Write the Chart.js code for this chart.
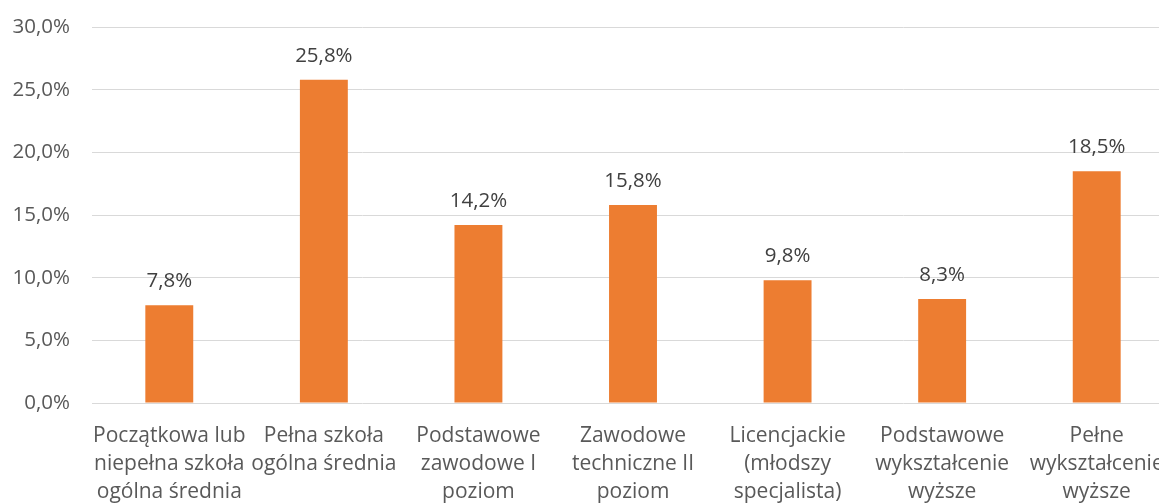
<!DOCTYPE html>
<html>
<head>
<meta charset="utf-8">
<script src="https://cdn.jsdelivr.net/npm/chart.js@4.4.0/dist/chart.umd.min.js"></script>
<style>
  html, body { margin: 0; padding: 0; background: #fff; overflow: hidden; }
  #wrap { width: 1159px; height: 504px; overflow: hidden; }
</style>
</head>
<body>
<div id="wrap"><canvas id="chart1" width="1174" height="504"></canvas></div>
<script>
const categories = [
  ['Początkowa lub', 'niepełna szkoła', 'ogólna średnia'],
  ['Pełna szkoła', 'ogólna średnia'],
  ['Podstawowe', 'zawodowe I', 'poziom'],
  ['Zawodowe', 'techniczne II', 'poziom'],
  ['Licencjackie', '(młodszy', 'specjalista)'],
  ['Podstawowe', 'wykształcenie', 'wyższe'],
  ['Pełne', 'wykształcenie', 'wyższe']
];
const shares = [7.8, 25.8, 14.2, 15.8, 9.8, 8.3, 18.5];
const yTicks = [0, 5, 10, 15, 20, 25, 30];

const fontFamily = '"Open Sans", "Noto Sans", sans-serif';

function fmt(v) {
  return v.toFixed(1).replace('.', ',') + '%';
}

// labels above bars
const barLabels = {
  id: 'barLabels',
  afterDatasetsDraw(chart) {
    const ctx = chart.ctx;
    const meta = chart.getDatasetMeta(0);
    ctx.save();
    ctx.font = '20.5px ' + fontFamily;
    ctx.fillStyle = '#404040';
    ctx.textAlign = 'center';
    ctx.textBaseline = 'alphabetic';
    meta.data.forEach((bar, i) => {
      ctx.fillText(fmt(shares[i]), bar.x, bar.y - 18);
    });
    ctx.restore();
  }
};

// drop the label-based padding chart.js adds, so the plot area is fixed
function noPad(scale) {
  scale.paddingTop = 0;
  scale.paddingBottom = 0;
  scale.paddingLeft = 0;
  scale.paddingRight = 0;
}

var ctx1 = document.getElementById('chart1').getContext('2d');
var chart1 = new Chart(ctx1, {
  type: 'bar',
  data: {
    labels: categories,
    datasets: [{
      data: shares,
      backgroundColor: '#ED7D31',
      borderWidth: 0,
      barPercentage: 0.31,
      categoryPercentage: 1.0
    }]
  },
  options: {
    responsive: false,
    animation: false,
    layout: { autoPadding: false, padding: { top: 27, left: 0, right: 0, bottom: 0 } },
    plugins: {
      legend: { display: false },
      tooltip: { enabled: false }
    },
    scales: {
      x: {
        grid: { display: false, drawTicks: false },
        border: { display: false },
        ticks: {
          color: '#595959',
          font: { family: fontFamily, size: 21, lineHeight: 1.333 },
          padding: 19,
          maxRotation: 0,
          autoSkip: false
        },
        afterFit(scale) { scale.height = 101; noPad(scale); }
      },
      y: {
        min: 0,
        max: 30,
        afterBuildTicks(scale) { scale.ticks = yTicks.map(v => ({ value: v })); },
        grid: { color: '#d9d9d9', lineWidth: 1, drawTicks: false },
        border: { display: false },
        ticks: {
          color: '#595959',
          font: { family: fontFamily, size: 20.5 },
          padding: 22,
          callback: v => fmt(v)
        },
        afterFit(scale) { scale.width = 92; noPad(scale); }
      }
    }
  },
  plugins: [barLabels]
});
</script>
</body>
</html>
